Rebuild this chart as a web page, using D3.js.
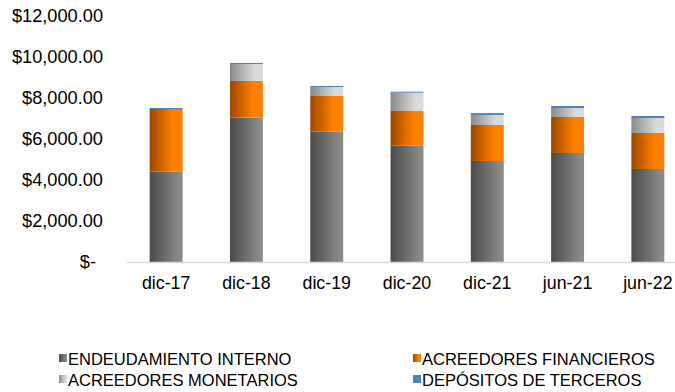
<!DOCTYPE html>
<html><head><meta charset="utf-8">
<script src="https://cdn.jsdelivr.net/npm/d3@7/dist/d3.min.js"></script>
<style>body{margin:0;background:#fff}svg{display:block}text{font-family:"Liberation Sans",Arial,sans-serif;fill:#000}</style>
</head><body><svg id="c" width="675" height="392"></svg>
<script>
const categories = ["dic-17","dic-18","dic-19","dic-20","dic-21","jun-21","jun-22"];
const endeudamientoInterno = [4405,7040,6356,5673,4927,5317,4537];
const acreedoresFinancieros = [3058,1790,1742,1693,1756,1756,1756];
const acreedoresMonetarios = [0,830,439,893,488,439,731];
const depositosTerceros = [49,49,49,49,92,98,98];
const yTicks = [0,2000,4000,6000,8000,10000,12000];
const seriesNames = ["ENDEUDAMIENTO INTERNO","ACREEDORES FINANCIEROS","ACREEDORES MONETARIOS","DEPÓSITOS DE TERCEROS"];

const svg = d3.select("#c");
const defs = svg.append("defs");
function grad(id, c1, c2, stop){
  const g = defs.append("linearGradient").attr("id",id).attr("x1","0").attr("x2","1").attr("y1","0").attr("y2","0");
  g.append("stop").attr("offset","0").attr("stop-color",c1);
  g.append("stop").attr("offset",stop).attr("stop-color",c2);
  g.append("stop").attr("offset","1").attr("stop-color",c2);
}
grad("gGray","#4b4b4b","#8a8a88",0.9);
grad("gOrange","#9c4700","#ff8000",0.7);
grad("gLight","#8a8a8a","#dadada",0.75);
const fills = ["url(#gGray)","url(#gOrange)","url(#gLight)","#4f81bd"];

const data = categories.map((c,i)=>({cat:c, s0:endeudamientoInterno[i], s1:acreedoresFinancieros[i], s2:acreedoresMonetarios[i], s3:depositosTerceros[i]}));
const stack = d3.stack().keys(["s0","s1","s2","s3"])(data);

const x = d3.scaleBand().domain(categories).range([126,688]).paddingInner(0.59).paddingOuter(0.295);
const y = d3.scaleLinear().domain([0,12000]).range([262,16]);

const fmt = v => v===0 ? "$-" : "$" + d3.format(",.2f")(v);
const yAxis = svg.append("g").attr("transform","translate(103,0)")
  .call(d3.axisLeft(y).tickValues(yTicks).tickFormat(fmt).tickSize(0).tickPadding(0));
yAxis.select(".domain").remove();
yAxis.selectAll("text").attr("font-size","18.2px").attr("font-family","'Liberation Sans',Arial,sans-serif").attr("fill","#000");
yAxis.selectAll("text").filter(d=>d===0).attr("dx","-7");

stack.forEach((layer,k)=>{
  svg.append("g").selectAll("rect").data(layer).join("rect")
    .attr("x",d=>x(d.data.cat)).attr("width",x.bandwidth())
    .attr("y",d=>y(d[1])).attr("height",d=>Math.max(0,y(d[0])-y(d[1])))
    .attr("fill",fills[k]);
});

const xAxis = svg.append("g").attr("transform","translate(0,262)")
  .call(d3.axisBottom(x).tickSize(0).tickPadding(14));
xAxis.select(".domain").attr("stroke","#d9d9d9").attr("stroke-width",1.5).attr("d","M127,0.5H688");
xAxis.selectAll("text").attr("font-size","17.8px").attr("font-family","'Liberation Sans',Arial,sans-serif").attr("fill","#000");

const legPos = [[59,359],[413,359],[59,380],[413,380]];
const leg = svg.append("g");
seriesNames.forEach((n,i)=>{
  const [lx,ly]=legPos[i];
  leg.append("rect").attr("x",lx).attr("y",ly-5).attr("width",8).attr("height",8).attr("fill",fills[i]);
  leg.append("text").attr("x",lx+9).attr("y",ly).attr("dy","0.35em").attr("font-size","16.5px").text(n);
});
</script></body></html>
